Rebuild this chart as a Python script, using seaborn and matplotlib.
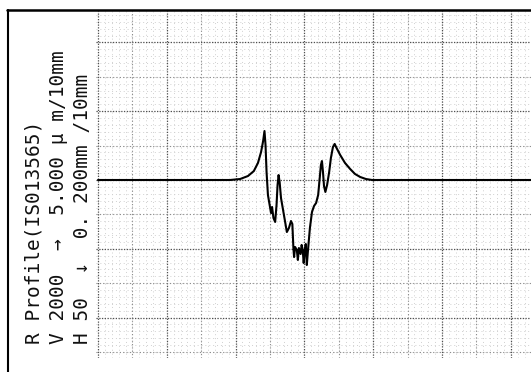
import matplotlib
matplotlib.use("Agg")
import matplotlib.pyplot as plt
from matplotlib.lines import Line2D
from matplotlib.ticker import MultipleLocator
import numpy as np
import seaborn as sns

# Roughness profile trace: horizontal position (mm) and height (um)
position_mm = [
    0.000, 0.384, 0.413, 0.436, 0.453, 0.465, 0.474, 0.480, 0.484, 0.487,
    0.490, 0.494, 0.499, 0.503, 0.506, 0.510, 0.515, 0.519, 0.522, 0.525,
    0.528, 0.532, 0.538, 0.544, 0.549, 0.555, 0.561, 0.565, 0.568, 0.570,
    0.573, 0.578, 0.581, 0.584, 0.589, 0.592, 0.595, 0.598, 0.601, 0.604,
    0.607, 0.610, 0.613, 0.616, 0.622, 0.628, 0.634, 0.640, 0.644, 0.648,
    0.651, 0.654, 0.657, 0.661, 0.666, 0.672, 0.677, 0.683, 0.688, 0.692,
    0.704, 0.718, 0.733, 0.747, 0.762, 0.779, 0.797, 1.259,
]
height_um = [
    0.00, 0.00, 0.07, 0.29, 0.65, 1.24, 2.03, 2.83, 3.56, 2.54,
    0.58, -1.09, -1.82, -2.40, -1.96, -2.76, -3.05, -1.82, -0.36, 0.36,
    -0.15, -1.31, -2.18, -3.05, -3.78, -3.49, -2.98, -3.20, -4.94, -5.60,
    -4.87, -5.09, -5.81, -4.94, -5.38, -4.72, -5.09, -6.03, -5.09, -4.65,
    -6.18, -5.23, -4.36, -3.49, -2.33, -1.89, -1.67, -1.09, 0.00, 1.09,
    1.38, 0.58, -0.44, -0.87, -0.36, 0.58, 1.60, 2.40, 2.62, 2.40,
    1.82, 1.24, 0.80, 0.44, 0.22, 0.07, 0.00, 0.00,
]

header_lines = [
    "R Profile(IS013565)",
    "V 2000  →  5.000 μ m/10mm",
    "H 50  ↓  0. 200mm /10mm",
]

# Chart scales: 10 mm of chart paper per division
x_major, x_minor, x_fine = 0.2, 0.1, 0.02
y_major, y_minor, y_fine = 5.0, 2.5, 0.5

W, H = 531, 372
sns.set_style("white")
fig = plt.figure(figsize=(W / 100, H / 100), dpi=100)
fig.patch.set_facecolor("white")

# plot area in pixel terms
left_px, right_px, top_px, bottom_px = 96, 531, 11, 358
ax = fig.add_axes([left_px / W, 1 - bottom_px / H,
                   (right_px - left_px) / W, (bottom_px - top_px) / H])

div_px = 68.8          # pixels per major division
origin_x, origin_y = 98, 180
def xpx(p):
    return (p - origin_x) * x_major / div_px
def ypx(p):
    return (origin_y - p) * y_major / div_px

ax.set_xlim(xpx(left_px), xpx(right_px))
ax.set_ylim(ypx(bottom_px), ypx(top_px))

# chart paper: faint fine dots, minor and major dotted rules
x0, x1 = ax.get_xlim()
y0, y1 = ax.get_ylim()
for xv in np.arange(0, x1, x_fine):
    ax.axvline(xv, color="#d0d0d0", lw=0.7, ls=(0, (1, 3)), zorder=0)
for yv in np.arange(0, y1, y_fine).tolist() + np.arange(0, y0, -y_fine).tolist():
    ax.axhline(yv, color="#d0d0d0", lw=0.7, ls=(0, (1, 3)), zorder=0)

ax.xaxis.set_major_locator(MultipleLocator(x_major))
ax.xaxis.set_minor_locator(MultipleLocator(x_minor))
ax.yaxis.set_major_locator(MultipleLocator(y_major))
ax.yaxis.set_minor_locator(MultipleLocator(y_minor))
ax.grid(which="major", color="#505050", lw=0.9, ls=(0, (1, 1.2)), zorder=1)
ax.grid(which="minor", color="#8a8a8a", lw=0.8, ls=(0, (1, 2)), zorder=1)
ax.tick_params(which="both", length=0, labelbottom=False, labelleft=False)
for s in ax.spines.values():
    s.set_visible(False)

sns.lineplot(x=position_mm, y=height_um, ax=ax, color="black", lw=1.5,
             estimator=None, sort=False, zorder=3)
ax.set_xlabel("")
ax.set_ylabel("")

# frame of the print-out
fig.add_artist(Line2D([7.5 / W, 7.5 / W], [1 - 10 / H, 0], color="black", lw=1.5))
fig.add_artist(Line2D([7 / W, 1], [1 - 10 / H, 1 - 10 / H], color="black", lw=1.8))

# rotated measurement header
for i, line in enumerate(header_lines):
    fig.text((39 + 24.5 * i) / W, 1 - 344 / H, line, rotation=90,
             rotation_mode="anchor", ha="left", va="baseline",
             family=["DejaVu Sans Mono"], fontsize=14,
             color="#111111")

fig.savefig("out.png", dpi=100, facecolor="white")
